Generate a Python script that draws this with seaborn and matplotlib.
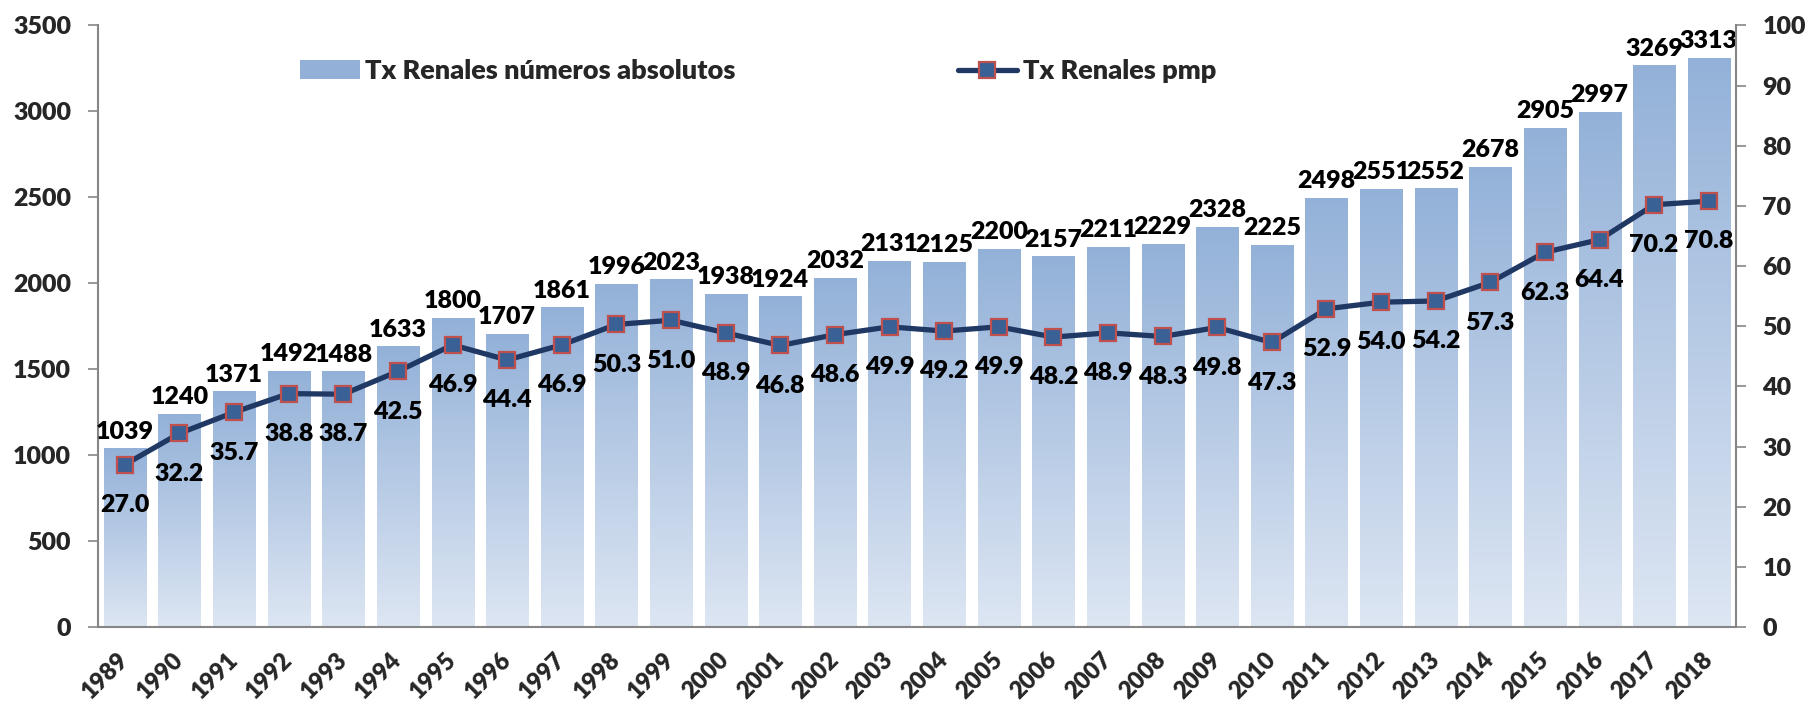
import numpy as np
import pandas as pd
import matplotlib
matplotlib.use("Agg")
import matplotlib.pyplot as plt
from matplotlib.colors import LinearSegmentedColormap
from matplotlib.patches import Patch
from matplotlib.lines import Line2D
import seaborn as sns

years = [str(y) for y in range(1989, 2019)]
tx_abs = [1039, 1240, 1371, 1492, 1488, 1633, 1800, 1707, 1861, 1996, 2023, 1938, 1924,
          2032, 2131, 2125, 2200, 2157, 2211, 2229, 2328, 2225, 2498, 2551, 2552, 2678,
          2905, 2997, 3269, 3313]
tx_pmp = [27.0, 32.2, 35.7, 38.8, 38.7, 42.5, 46.9, 44.4, 46.9, 50.3, 51.0, 48.9, 46.8,
          48.6, 49.9, 49.2, 49.9, 48.2, 48.9, 48.3, 49.8, 47.3, 52.9, 54.0, 54.2, 57.3,
          62.3, 64.4, 70.2, 70.8]
label_abs = "Tx Renales números absolutos"
label_pmp = "Tx Renales pmp"

df = pd.DataFrame({"year": years, "abs": tx_abs, "pmp": tx_pmp})

sns.set_theme(style="white")
plt.rcParams['font.family'] = ['Lato', 'DejaVu Sans']
WT = "heavy"
plt.rcParams['font.weight'] = WT

FS = 18
GRAY = "#868686"
LINE_C = "#1f3864"
MK_FACE = "#3a6195"
MK_EDGE = "#c0504d"
TOP_C = "#93b1d8"
BOT_C = "#dde6f3"

fig = plt.figure(figsize=(18.2, 7.08), dpi=100)
ax = fig.add_axes([0.0536, 0.1144, 0.9003, 0.8496])

sns.barplot(data=df, x="year", y="abs", ax=ax, width=0.77, color=TOP_C, saturation=1)

cmap = LinearSegmentedColormap.from_list("bargrad", [BOT_C, TOP_C])
grad = np.linspace(0, 1, 256).reshape(-1, 1)
for p in list(ax.patches):
    x0, y0, w, h = p.get_x(), p.get_y(), p.get_width(), p.get_height()
    im = ax.imshow(grad, extent=[x0, x0 + w, y0, y0 + h], origin="lower",
                   cmap=cmap, aspect="auto", zorder=p.get_zorder(), interpolation="bilinear")
    im.set_clip_path(p)
    p.set_facecolor("none")
    p.set_edgecolor("none")

n = len(years)
ax.set_xlim(-0.5, n - 0.5)
ax.set_ylim(0, 3500)
ax.set_yticks(np.arange(0, 3501, 500))
ax.set_xlabel("")
ax.set_ylabel("")

for i, v in enumerate(tx_abs):
    ax.annotate(f"{v}", (i, v), xytext=(0, 4), textcoords="offset points",
                ha="center", va="bottom", fontsize=FS, fontweight=WT, color="black",
                annotation_clip=False)

# x ticks: labels at centers, marks at boundaries
ax.set_xticks(np.arange(n))
ax.set_xticklabels(years, rotation=45, ha="right", va="center", rotation_mode="anchor",
                   fontsize=17, fontweight=WT)
ax.set_xticks(np.arange(-0.5, n, 1), minor=True)
ax.tick_params(axis="x", which="major", length=0, pad=21)
ax.tick_params(axis="x", which="minor", length=7, width=1.2, color=GRAY, direction="out")
ax.tick_params(axis="y", which="major", length=7, width=1.2, color=GRAY, direction="out",
               pad=12, labelsize=FS, left=True)
for lbl in ax.get_yticklabels():
    lbl.set_fontweight(WT)

for s in ["top", "right"]:
    ax.spines[s].set_visible(False)
for s in ["left", "bottom"]:
    ax.spines[s].set_color(GRAY)
    ax.spines[s].set_linewidth(1.5)

ax2 = ax.twinx()
sns.lineplot(x=np.arange(n), y=tx_pmp, ax=ax2, color=LINE_C, linewidth=3.8,
             marker="s", markersize=11, markerfacecolor=MK_FACE, markeredgecolor=MK_EDGE,
             markeredgewidth=1.6, zorder=5)
ax2.set_ylim(0, 100)
ax2.set_yticks(np.arange(0, 101, 10))
ax2.set_xlim(-0.5, n - 0.5)
ax2.tick_params(axis="y", which="major", length=7, width=1.2, color=GRAY, direction="out",
                pad=12, labelsize=FS, right=True)
for lbl in ax2.get_yticklabels():
    lbl.set_fontweight(WT)
for s in ["top", "left", "bottom"]:
    ax2.spines[s].set_visible(False)
ax2.spines["right"].set_color(GRAY)
ax2.spines["right"].set_linewidth(1.5)

for i, v in enumerate(tx_pmp):
    ax2.annotate(f"{v:.1f}", (i, v), xytext=(0, -29), textcoords="offset points",
                 ha="center", va="center", fontsize=FS, fontweight=WT, color="black",
                 zorder=6)

handles = [Patch(facecolor=TOP_C, edgecolor="none"),
           Line2D([0], [0], color=LINE_C, linewidth=3.8, marker="s", markersize=11,
                  markerfacecolor=MK_FACE, markeredgecolor=MK_EDGE, markeredgewidth=1.6)]
leg = ax2.legend(handles, [label_abs, label_pmp], loc="center left",
                 bbox_to_anchor=(0.1236, 0.924), ncol=2, frameon=False,
                 prop={"size": 19.5, "weight": WT}, handlelength=2.2,
                 handletextpad=0.2, columnspacing=8.2, borderpad=0, borderaxespad=0)

fig.savefig("out.png", dpi=100)
